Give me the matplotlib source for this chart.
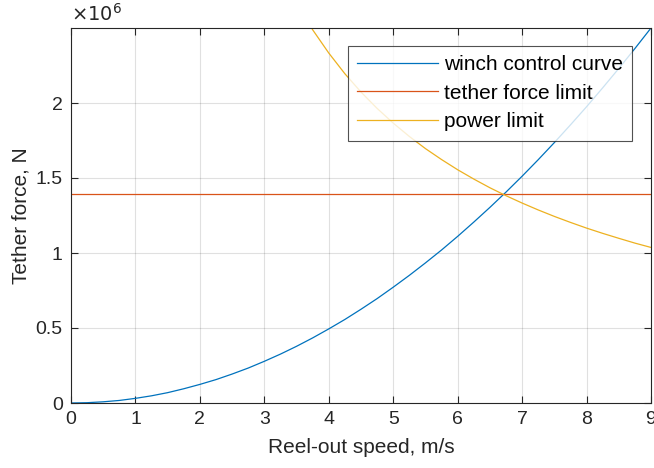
import matplotlib.pyplot as plt

plt.rcParams['font.family'] = ['Liberation Sans', 'DejaVu Sans']

# --- data ---
speed = [0, 0.25, 0.5, 0.75, 1, 1.25, 1.5, 1.75, 2, 2.25, 2.5, 2.75, 3, 3.25, 3.5,
         3.75, 4, 4.25, 4.5, 4.75, 5, 5.25, 5.5, 5.75, 6, 6.25, 6.5, 6.75, 7,
         7.25, 7.5, 7.75, 8, 8.25, 8.5, 8.75, 9]
winch_force_mn = [0, 0.002, 0.008, 0.017, 0.031, 0.048, 0.069, 0.095, 0.124, 0.156,
                  0.193, 0.233, 0.278, 0.326, 0.378, 0.434, 0.494, 0.557, 0.625,
                  0.696, 0.772, 0.851, 0.934, 1.020, 1.111, 1.206, 1.304, 1.406,
                  1.512, 1.622, 1.736, 1.854, 1.975, 2.101, 2.230, 2.363, 2.500]

limit_speed = [0, 9]
tether_limit_mn = [1.395, 1.395]

power_speed = [3.5, 3.75, 4, 4.25, 4.5, 4.75, 5, 5.25, 5.5, 5.75, 6, 6.25, 6.5,
               6.75, 7, 7.25, 7.5, 7.75, 8, 8.25, 8.5, 8.75, 9]
power_limit_mn = [2.666, 2.488, 2.333, 2.195, 2.073, 1.964, 1.866, 1.777, 1.696,
                  1.623, 1.555, 1.493, 1.435, 1.382, 1.333, 1.287, 1.244, 1.204,
                  1.166, 1.131, 1.098, 1.066, 1.037]

yticks_mn = [0, 0.5, 1, 1.5, 2]
ytick_labels = ['0', '0.5', '1', '1.5', '2']

fig = plt.figure(figsize=(6.54, 4.68), dpi=100)
ax = fig.add_axes([71 / 654, 65 / 468, 580 / 654, 375 / 468])

dark = '#262626'
ax.plot(speed, winch_force_mn, color='#0072BD', lw=0.9, label='winch control curve')
ax.plot(limit_speed, tether_limit_mn, color='#D95319', lw=0.9, label='tether force limit')
ax.plot(power_speed, power_limit_mn, color='#EDB120', lw=0.9, label='power limit')

ax.set_xlim(0, 9)
ax.set_ylim(0, 2.5)
ax.set_xticks(range(10))
ax.set_yticks(yticks_mn)
ax.set_yticklabels(ytick_labels)
ax.text(0, 1.008, r'$\times10^{6}$', transform=ax.transAxes, fontsize=14,
        color=dark, ha='left', va='bottom')

ax.grid(True, color='#000000', alpha=0.12, lw=0.8)
ax.tick_params(direction='in', top=True, right=True, labelsize=14,
               colors=dark, length=5, width=0.8, pad=6)
for s in ax.spines.values():
    s.set_color(dark)
    s.set_linewidth(0.8)

ax.set_xlabel('Reel-out speed, m/s', fontsize=15, color=dark, labelpad=7)
ax.set_ylabel('Tether force, N', fontsize=15, color=dark)
ax.yaxis.set_label_coords(-0.07, 0.5)

leg = ax.legend(loc='upper right', bbox_to_anchor=(1 - 19 / 580, 1 - 18 / 375),
                fontsize=15, frameon=True, fancybox=False, borderaxespad=0,
                handlelength=3.9, handletextpad=0.25, labelspacing=0.45,
                borderpad=0.45)
leg.get_frame().set_edgecolor(dark)
leg.get_frame().set_linewidth(0.8)

fig.savefig('out.png', dpi=100)
